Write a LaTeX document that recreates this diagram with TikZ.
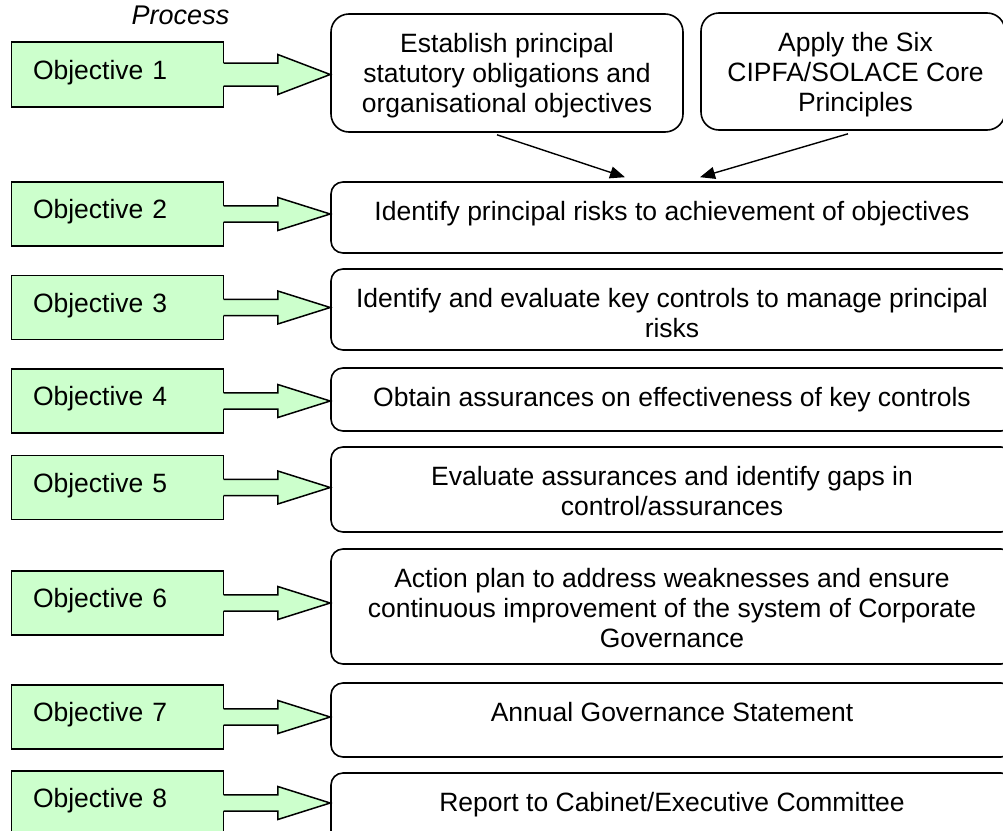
\documentclass[tikz,border=0pt]{standalone}
\usepackage{fontspec}
\setmainfont{Liberation Sans}
\usetikzlibrary{calc,arrows.meta}
\definecolor{objgreen}{RGB}{204,255,204}
\tikzset{
  gbox/.style={draw, fill=objgreen, line width=1.6pt, minimum width=212pt, minimum height=64pt,
    text width=169pt, inner xsep=21.5pt, inner ysep=0pt, text height=14pt, text depth=5pt,
    align=left, font=\fontsize{26.5}{30}\selectfont},
  rbox/.style={draw, line width=1.6pt, rounded corners=12pt, minimum width=682pt, inner sep=0pt},
  tbox/.style={draw, line width=1.6pt, rounded corners=18pt, inner sep=0pt},
  btxt/.style={inner sep=0pt, anchor=north, align=center, font=\fontsize{26.5}{30}\selectfont},
  conn/.style={line width=1.4pt, -{Triangle[length=15pt,width=12pt]}},
  barrowfill/.style={fill=objgreen},
  barrowline/.style={line width=1.5pt, line join=miter},
}
\newcommand\blockarrow[4]{%
  \fill[barrowfill] ($(#1.east)+(-3,-#3)$) -- ($(#1.east)+(53.5,-#3)$) -- ($(#1.east)+(53.5,-#4)$)
    -- (#2.west |- #1.east) -- ($(#1.east)+(53.5,#4)$) -- ($(#1.east)+(53.5,#3)$) -- ($(#1.east)+(-3,#3)$) -- cycle;
  \draw[barrowline] ($(#1.east)+(-0.8,-#3)$) -- ($(#1.east)+(53.5,-#3)$) -- ($(#1.east)+(53.5,-#4)$)
    -- (#2.west |- #1.east) -- ($(#1.east)+(53.5,#4)$) -- ($(#1.east)+(53.5,#3)$) -- ($(#1.east)+(-0.8,#3)$);
}
\begin{document}
\begin{tikzpicture}[x=1pt,y=-1pt]
\useasboundingbox (0,0) rectangle (1003,830);

% title
\node[font=\fontsize{27}{30}\selectfont\itshape, anchor=base, inner sep=0pt] (proc) at (180.5,24) {Process};

% top boxes
\node[tbox, minimum width=352pt, minimum height=118pt] (A) at (507,73) {};
\node[tbox, minimum width=304pt, minimum height=117pt] (B) at (853,71.5) {};
\node[btxt] (At) at ($(A.north)+(0,18)$) {\strut Establish principal\\statutory obligations and\\organisational objectives};
\node[btxt] (Bt) at ($(B.north)+(2.5,18)$) {\strut Apply the Six\\CIPFA/SOLACE Core\\Principles};

% right boxes
\node[rbox, minimum height=71pt] (r2) at (672,217.5) {};
\node[rbox, minimum height=81pt] (r3) at (672,309.5) {};
\node[rbox, minimum height=63pt] (r4) at (672,399.5) {};
\node[rbox, minimum height=85pt] (r5) at (672,489.5) {};
\node[rbox, minimum height=115pt] (r6) at (672,606.5) {};
\node[rbox, minimum height=74pt] (r7) at (672,720) {};
\node[rbox, minimum height=74pt] (r8) at (672,810) {};

\node[btxt] (r2t) at ($(r2.north)+(0,18)$) {\strut Identify principal risks to achievement of objectives};
\node[btxt] (r3t) at ($(r3.north)+(0,18)$) {\strut Identify and evaluate key controls to manage principal\\risks};
\node[btxt] (r4t) at ($(r4.north)+(0,18)$) {\strut Obtain assurances on effectiveness of key controls};
\node[btxt] (r5t) at ($(r5.north)+(0,18)$) {\strut Evaluate assurances and identify gaps in\\control/assurances};
\node[btxt] (r6t) at ($(r6.north)+(0,18)$) {\strut Action plan to address weaknesses and ensure\\continuous improvement of the system of Corporate\\Governance};
\node[btxt] (r7t) at ($(r7.north)+(0,18)$) {\strut Annual Governance Statement};
\node[btxt] (r8t) at ($(r8.north)+(0,18)$) {\strut Report to Cabinet/Executive Committee};

% objective boxes
\node[gbox, minimum height=65pt] (o1) at (117.5,74.5) {Objective 1};
\node[gbox] (o2) at (117.5,214) {Objective 2};
\node[gbox] (o3) at (117.5,307.5) {Objective 3};
\node[gbox] (o4) at (117.5,401) {Objective 4};
\node[gbox] (o5) at (117.5,487.5) {Objective 5};
\node[gbox] (o6) at (117.5,603) {Objective 6};
\node[gbox] (o7) at (117.5,717) {Objective 7};
\node[gbox] (o8) at (117.5,803) {Objective 8};

% block arrows
\blockarrow{o1}{A}{11.5}{20}
\blockarrow{o2}{r2}{8.2}{16.5}
\blockarrow{o3}{r3}{8.2}{16.5}
\blockarrow{o4}{r4}{8.2}{16.5}
\blockarrow{o5}{r5}{8.2}{16.5}
\blockarrow{o6}{r6}{8.2}{16.5}
\blockarrow{o7}{r7}{8.2}{16.5}
\blockarrow{o8}{r8}{8.2}{16.5}

% connectors
\coordinate (aS) at ($(A.south)+(-10,2)$);
\coordinate (aE) at ($(r2.north)+(-47,-4)$);
\coordinate (bS) at ($(B.south)+(-5,3)$);
\coordinate (bE) at ($(r2.north)+(28,-4)$);
\draw[conn] (aS) -- (aE);
\draw[conn] (bS) -- (bE);
\end{tikzpicture}
\end{document}
